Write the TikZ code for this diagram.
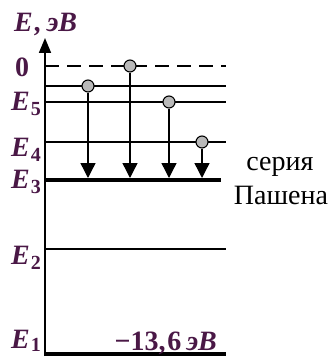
\documentclass[tikz,border=0pt]{standalone}
\usepackage{fontspec}
\setmainfont{Liberation Serif}
\usetikzlibrary{arrows.meta}
\definecolor{lblpurple}{HTML}{4A1846}
\newcommand\Elvl[1]{E\kern1pt\raisebox{-5pt}{\fontsize{20}{20}\selectfont\upshape#1}}
\tikzset{
  lvl/.style={line width=1.7pt},
  lvlthick/.style={line width=3.6pt},
  elabel/.style={text=lblpurple, inner sep=0pt, font=\fontsize{28}{28}\selectfont\bfseries\itshape},
  serlabel/.style={inner sep=0pt, font=\fontsize{28}{28}\selectfont},
  electron/.style={circle, draw, fill=gray!55, line width=1.1pt, inner sep=0pt, minimum size=12pt},
  jump/.style={line width=1.4pt, -{Triangle[width=15pt,length=15pt]}},
}
\begin{document}
\begin{tikzpicture}[x=1pt,y=-1pt]
      \useasboundingbox (0,0) rectangle (331,358);
      \draw[lvl] (45,86) -- (226,86);
      \draw[lvl] (45,102) -- (226,102);
      \draw[lvl] (45,142) -- (226,142);
      \draw[lvl, dash pattern=on 14pt off 8pt] (45,66) -- (226,66);
      \draw[lvlthick] (45,180) -- (221,180);
      \draw[line width=2.8pt] (45,249) -- (226,249);
      \draw[lvlthick] (45,354) -- (226,354);
      \draw[lvl, -{Triangle[width=12pt,length=15pt]}] (45,356) -- (45,38);
      \node[electron] (c6) at (88,86) {};
      \node[electron] (c7) at (130,66) {};
      \node[electron] (c5) at (169,102) {};
      \node[electron] (c4) at (202,142) {};
      \coordinate (t6) at (88,178);
      \coordinate (t7) at (130,178);
      \coordinate (t5) at (169,178);
      \coordinate (t4) at (202,178);
      \draw[jump] (c6) -- (t6);
      \draw[jump] (c7) -- (t7);
      \draw[jump] (c5) -- (t5);
      \draw[jump] (c4) -- (t4);
      \node[elabel, anchor=base west] (eaxis) at (14,32) {E\kern2pt,\kern5pt эВ};
      \node[elabel, anchor=base west, font=\fontsize{28}{28}\selectfont\bfseries] (zero) at (15,77) {0};
      \node[elabel, anchor=base west] (e5) at (11,111) {\Elvl{5}};
      \node[elabel, anchor=base west] (e4) at (11,157) {\Elvl{4}};
      \node[elabel, anchor=base west] (e3) at (11,188) {\Elvl{3}};
      \node[elabel, anchor=base west] (e2) at (11,264) {\Elvl{2}};
      \node[elabel, anchor=base west] (e1) at (11,348) {E\kern1pt\raisebox{-3pt}{\fontsize{20}{20}\selectfont\upshape 1}};
      \node[elabel, anchor=base east] (eion) at (217,350) {{\upshape −13,\kern2pt6}\kern5pt эВ};
      \node[serlabel, anchor=base] (ser1) at (280,170) {серия};
      \node[serlabel, anchor=base] (ser2) at (281,204) {Пашена};
    \end{tikzpicture}
\end{document}
